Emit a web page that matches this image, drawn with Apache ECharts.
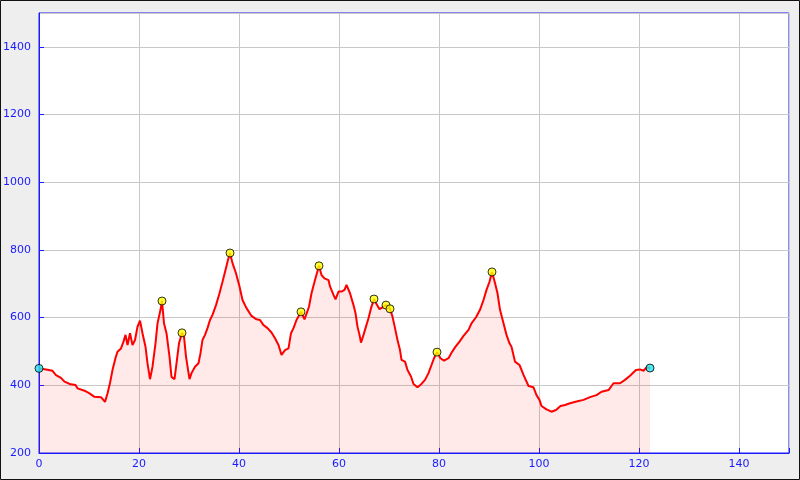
<!DOCTYPE html>
<html>
<head>
<meta charset="utf-8">
<script src="https://cdn.jsdelivr.net/npm/echarts@6/dist/echarts.min.js"></script>
<style>
html,body{margin:0;padding:0;background:#eeeeee;}
#chart{width:800px;height:480px;}
</style>
</head>
<body>
<div id="chart"></div>
<script>
// Distance (km) and elevation (m) of the profile
const distance = [0,1.4,2.7,3.4,4.4,5.1,6.1,7.3,7.7,9.1,10.1,11.1,12.4,13.2,13.7,14.2,14.7,15.3,15.7,16.4,16.9,17.3,17.7,18.2,18.7,19.2,19.7,20.2,20.7,21.3,21.7,22.2,22.7,23.3,23.7,24.3,24.6,25.0,25.5,26.1,26.5,27.1,27.5,28.0,28.6,29.0,29.4,30.1,30.5,31.2,31.9,32.3,32.7,33.2,33.7,34.2,34.7,35.4,36.1,36.7,37.3,37.8,38.2,38.7,39.4,40.1,40.7,41.5,42.5,43.5,44.2,44.9,45.7,46.5,47.2,47.9,48.5,48.9,49.2,49.9,50.4,50.9,51.5,52.4,53.1,53.5,54.0,54.5,55.2,56.0,56.5,57.1,57.5,57.9,58.2,58.9,59.3,59.9,60.5,61.1,61.5,61.9,62.2,62.9,63.3,63.7,64.1,64.4,64.9,65.3,65.9,66.4,67.0,67.5,68.1,68.5,69.4,70.2,70.7,71.2,71.7,72.2,72.5,73.2,73.7,74.4,74.9,75.7,76.5,77.2,77.9,78.5,79.0,79.6,80.3,81.0,81.9,82.5,83.2,84.1,84.9,85.9,86.5,87.4,88.2,88.9,89.5,90.1,90.6,91.2,91.7,92.2,92.9,93.5,94.1,94.5,95.2,96.1,96.9,97.9,98.9,99.5,100.1,100.5,101.5,102.5,103.4,104.3,105.2,106.2,107.5,108.9,110.2,111.5,112.5,113.9,114.9,116.2,117.2,118.2,119.4,120.2,120.9,121.5,122.2];
const elevation = [450,447,443,430,422,411,404,401,391,384,376,366,365,351,376,407,445,481,499,509,529,549,519,554,519,534,573,591,554,514,465,418,455,524,583,623,649,583,554,485,425,418,465,524,555,544,485,418,436,455,465,495,534,549,569,593,608,637,672,706,741,771,791,761,731,692,652,628,605,595,593,578,569,556,539,519,490,495,504,509,554,569,593,617,595,598,632,672,711,753,726,716,719,711,692,667,654,677,677,682,697,702,672,637,613,573,549,526,549,569,598,628,655,640,625,625,637,626,603,569,534,504,475,470,445,426,404,394,404,416,436,460,480,498,480,473,480,496,512,529,546,564,583,601,623,652,682,706,735,702,672,623,583,549,524,514,470,460,431,398,394,371,357,339,329,322,327,339,342,347,352,357,365,371,381,386,406,406,416,428,445,447,443,453,451];
// Marked summits and end points
const peakDist = [24.6,28.6,38.2,52.4,56.0,67.0,69.4,70.2,79.6,90.6];
const peakElev = [649,555,791,617,753,655,637,626,498,735];
const endDist = [0,122.2];
const endElev = [450,451];
const xTicks = [0,20,40,60,80,100,120,140];
const yTicks = [200,400,600,800,1000,1200,1400];

const lineData = distance.map((d,i)=>[d,elevation[i]]);
const peakData = peakDist.map((d,i)=>[d,peakElev[i]]);
const endData = endDist.map((d,i)=>[d,endElev[i]]);

const blue = '#1a1aff';
const chart = echarts.init(document.getElementById('chart'), null, {renderer:'canvas'});
chart.setOption({
  backgroundColor:'#eeeeee',
  animation:false,
  grid:{left:39,right:11,top:13,bottom:27,show:true,backgroundColor:'#ffffff',borderColor:blue,borderWidth:1},
  xAxis:{type:'value',min:0,max:150,interval:20,
    axisLine:{show:true,onZero:false,lineStyle:{color:blue,width:1}},
    axisTick:{show:true,inside:true,length:5,lineStyle:{color:blue}},
    axisLabel:{color:blue,fontSize:11,fontFamily:'DejaVu Sans',margin:6,
      formatter:v=>xTicks.includes(v)?String(v):''},
    splitLine:{show:true,lineStyle:{color:'#c8c8c8',width:1}}},
  yAxis:{type:'value',min:200,max:1500,interval:200,
    axisLine:{show:true,lineStyle:{color:blue,width:1}},
    axisTick:{show:true,inside:true,length:5,lineStyle:{color:blue}},
    axisLabel:{color:blue,fontSize:11,fontFamily:'DejaVu Sans',margin:8,showMaxLabel:false,
      formatter:v=>yTicks.includes(v)?String(v):''},
    splitLine:{show:true,lineStyle:{color:'#c8c8c8',width:1}}},
  graphic:[{type:'rect',shape:{x:0.5,y:0.5,width:799,height:479},style:{fill:'none',stroke:'#111',lineWidth:1},z:100}],
  series:[
    {type:'line',data:lineData,showSymbol:false,smooth:false,
      lineStyle:{color:'#ff0000',width:2},
      areaStyle:{color:'rgba(255,0,0,0.12)',origin:'start'},z:2},
    {type:'scatter',data:peakData,symbol:'circle',symbolSize:8,
      itemStyle:{color:'#ffff00',borderColor:'#000',borderWidth:1},z:5},
    {type:'scatter',data:endData,symbol:'circle',symbolSize:8,
      itemStyle:{color:'#22e5f0',borderColor:'#000',borderWidth:1},z:5}
  ]
});
</script>
</body>
</html>
